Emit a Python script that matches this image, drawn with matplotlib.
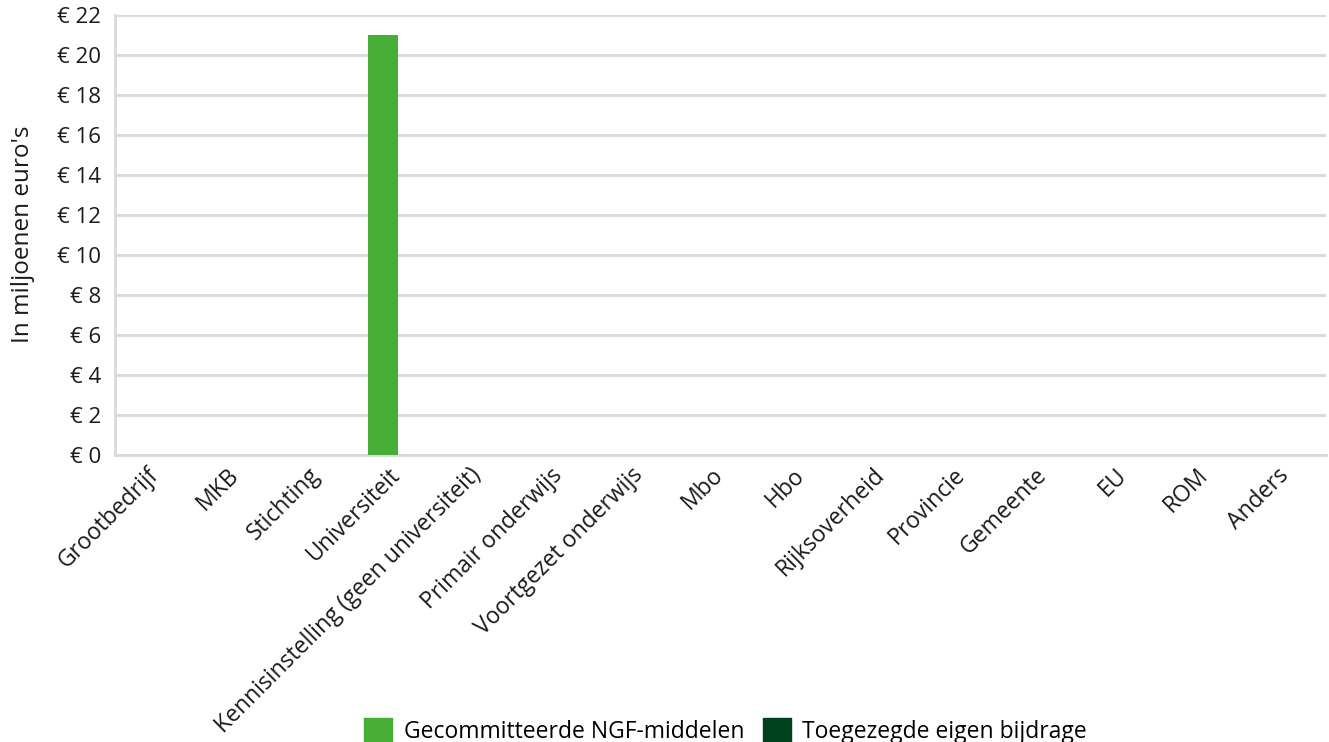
import matplotlib
matplotlib.use("Agg")
import matplotlib.pyplot as plt
import matplotlib.transforms as mtransforms
import numpy as np
from matplotlib.patches import Patch

categories = ["Grootbedrijf", "MKB", "Stichting", "Universiteit",
              "Kennisinstelling (geen universiteit)", "Primair onderwijs",
              "Voortgezet onderwijs", "Mbo", "Hbo", "Rijksoverheid", "Provincie",
              "Gemeente", "EU", "ROM", "Anders"]
ngf = [0, 0, 0, 21.0, 0, 0, 0, 0, 0, 0, 0, 0, 0, 0, 0]
eigen = [0, 0, 0, 0, 0, 0, 0, 0, 0, 0, 0, 0, 0, 0, 0]
series_names = ["Gecommitteerde NGF-middelen", "Toegezegde eigen bijdrage"]
yticks = [0, 2, 4, 6, 8, 10, 12, 14, 16, 18, 20, 22]

plt.rcParams['font.family'] = ['Open Sans', 'DejaVu Sans']
c1 = "#46ad35"
c2 = "#00411e"
grid = "#d9d9d9"
txt = "#1a1a1a"
fs = 16

fig = plt.figure(figsize=(13.29, 7.42), dpi=100)
ax = fig.add_axes([115/1329, 1 - 455/742, (1326-115)/1329, (455-15)/742])

x = np.arange(len(categories))
w = 0.37
ax.bar(x - w/2, ngf, w, color=c1, zorder=3)
ax.bar(x + w/2, eigen, w, color=c2, zorder=3)

ax.set_xlim(-0.5, len(categories) - 0.5)
ax.set_ylim(0, 22)
ax.set_yticks(yticks)
ax.set_yticklabels([f"€ {v}" for v in yticks], fontsize=fs, color=txt)
ax.yaxis.grid(True, color=grid, linewidth=2, zorder=0)
ax.set_axisbelow(True)
for s in ["top", "right"]:
    ax.spines[s].set_visible(False)
ax.spines["left"].set_color(grid)
ax.spines["left"].set_linewidth(2)
ax.spines["bottom"].set_color(grid)
ax.spines["bottom"].set_linewidth(2)
ax.tick_params(axis="y", length=0, pad=10)
ax.set_xticks(x)
ax.set_xticklabels(categories, rotation=45, ha="right", rotation_mode="anchor",
                   fontsize=16.5, color=txt)
ax.tick_params(axis="x", length=0, pad=6)
shift = mtransforms.ScaledTranslation(-9/100, 0, fig.dpi_scale_trans)
for lbl in ax.get_xticklabels():
    lbl.set_transform(lbl.get_transform() + shift)
fig.text(23/1329, 1 - 234/742, "In miljoenen euro's", rotation=90, ha="center",
         va="center", fontsize=17.5, color=txt)

handles = [Patch(color=c1), Patch(color=c2)]
fig.legend(handles, series_names, loc="lower center", bbox_to_anchor=(0.546, -0.03),
           ncol=2, frameon=False, fontsize=16.5, handlelength=1.22, handleheight=1.22,
           handletextpad=0.5, columnspacing=0.8)

fig.savefig("out.png", dpi=100)
